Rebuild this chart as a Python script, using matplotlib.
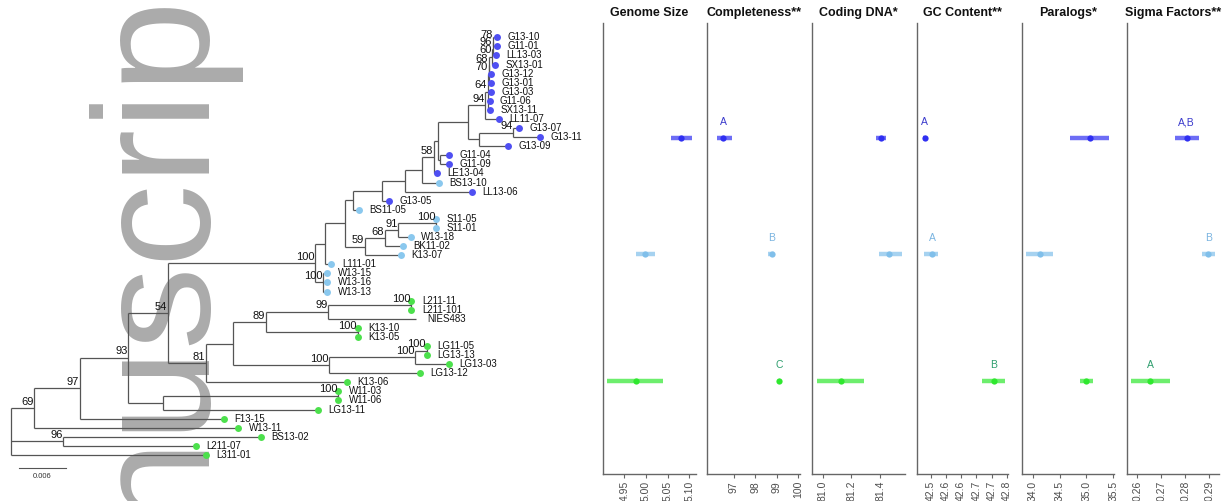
import matplotlib
matplotlib.use('Agg')
import matplotlib.pyplot as plt

plt.rcParams['font.family'] = ['Liberation Sans', 'DejaVu Sans']

# ---- tree: Newick pieces, branch lengths in 1e-3 subst./site, bootstrap as node labels
n1 = "(G13-10:0.488,G11-01:0.488)78"
n2 = f"({n1}:0.128,LL13-03:0.411)96"
n3 = f"({n2}:0.064,SX13-01:0.385)60"
n4 = f"({n3}:0.385,G13-12:0.257)68"
n5a = f"({n4}:0.064,G13-01:0.321)70"
n5 = f"({n5a}:0.128,G13-03:0.450,G11-06:0.257,SX13-11:0.360)64"
x94 = f"({n5}:0.321,LL11-07:1.799)94"
y94 = "(G13-07:0.694,G13-11:3.469)94"
z = f"({y94}:4.369,G13-09:3.649)"
aa = f"({x94}:2.146,{z}:1.413)"
g11 = "(G11-04:1.195,G11-09:1.195)"
ab = f"({aa}:3.893,{g11}:0.257)"
n58 = f"({ab}:0.514,LE13-04:0.347)58"
w2 = f"({n58}:1.580,BS13-10:2.261)"
v = f"({w2}:2.146,LL13-06:8.570)"
t = f"({v}:2.994,G13-05:0.912)"
u = f"({t}:3.649,BS11-05:0.771)"
s11 = "(S11-05:0.039,S11-01:0.039)100"
n91 = f"({s11}:4.844,W13-18:1.580)91"
n68 = f"({n91}:1.709,BK11-02:2.313)68"
n59 = f"({n68}:2.570,K13-07:4.626)59"
q = f"({u}:1.066,{n59}:2.570)"
p = f"({q}:2.570,L111-01:0.822)"
wn = "(W13-15:0.552,W13-16:0.552,W13-13:0.552)100"
f100 = f"({p}:1.285,{wn}:1.028)100"
l211 = "(L211-11:0.051,L211-101:0.051)100"
n99 = f"({l211}:10.613,NIES483:11.307)99"
k13 = "(K13-10:0.039,K13-05:0.039)100"
h89 = f"({n99}:8.018,{k13}:11.757)89"
m = "(LG11-05:0.026,LG13-13:0.026)100"
l100 = f"({m}:1.452,LG13-03:4.279)100"
k100 = f"({l100}:11.063,LG13-12:11.705)100"
j = f"({h89}:4.279,{k100}:12.386)"
g81 = f"({j}:3.495,K13-06:18.194)81"
e54 = f"({f100}:18.939,{g81}:4.870)54"
w11 = "(W11-03:0.03,W11-06:0.03)100"
d = f"({w11}:22.524,LG13-11:19.915)"
c93 = f"({e54}:5.062,{d}:4.420)93"
b97 = f"({c93}:6.244,F13-15:18.541)97"
a69 = f"({b97}:5.808,W13-11:26.211)69"
n96 = "(BS13-02:25.376,L211-07:17.063)96"
newick = f"({a69}:3.045,{n96}:6.733,L311-01:25.081);"

blue_leaves = ['G13-10', 'G11-01', 'LL13-03', 'SX13-01', 'G13-12', 'G13-01', 'G13-03',
               'G11-06', 'SX13-11', 'LL11-07', 'G13-07', 'G13-11', 'G13-09', 'G11-04',
               'G11-09', 'LE13-04', 'LL13-06', 'G13-05']
light_leaves = ['BS13-10', 'BS11-05', 'S11-05', 'S11-01', 'W13-18', 'BK11-02', 'K13-07',
                'L111-01', 'W13-15', 'W13-16', 'W13-13']
no_dot = ['NIES483']

# ---- trait panels (groups: blue clade, light-blue clade, green clade)
group_y = [1, 2, 3.1]
panel_titles = ['Genome Size', 'Completeness**', 'Coding DNA*', 'GC Content**',
                'Paralogs*', 'Sigma Factors**']
genome_mean = [5.081, 4.998, 4.976]
genome_lo = [5.057, 4.977, 4.911]
genome_hi = [5.106, 5.020, 5.040]
complete_mean = [96.53, 98.76, 99.11]
complete_lo = [96.22, 98.61, 99.08]
complete_hi = [96.92, 98.88, 99.14]
coding_mean = [81.405, 81.465, 81.125]
coding_lo = [81.37, 81.39, 80.96]
coding_hi = [81.44, 81.55, 81.29]
gc_mean = [42.48, 42.505, 42.707]
gc_lo = [42.475, 42.478, 42.669]
gc_hi = [42.485, 42.524, 42.743]
paralog_mean = [35.06, 34.135, 35.00]
paralog_lo = [34.69, 33.876, 34.88]
paralog_hi = [35.43, 34.38, 35.12]
sigma_mean = [0.2806, 0.2896, 0.2653]
sigma_lo = [0.2758, 0.2868, 0.2572]
sigma_hi = [0.2858, 0.2924, 0.2738]

ticks = [[4.95, 5.00, 5.05, 5.10], [97, 98, 99, 100], [81.0, 81.2, 81.4],
         [42.50, 42.55, 42.60, 42.65, 42.70, 42.75], [34.0, 34.5, 35.0, 35.5],
         [0.26, 0.27, 0.28, 0.29]]
tick_labels = [['4.95', '5.00', '5.05', '5.10'], ['97', '98', '99', '100'],
               ['81.0', '81.2', '81.4'], ['42.5', '42.6', '42.6', '42.7', '42.7', '42.8'],
               ['34.0', '34.5', '35.0', '35.5'], ['0.26', '0.27', '0.28', '0.29']]
xlims = [(4.900, 5.1155), (95.79, 100.07), (80.927, 81.574), (42.456, 42.755),
         (33.795, 35.52), (0.25558, 0.29417)]
letters = [None, ['A', 'B', 'C'], None, ['A', 'A', 'B'], None, ['A,B', 'B', 'A']]

pt_colors = ['#2f2ff2', '#80bfea', '#2fe82f']
txt_colors = ['#3a3acc', '#7ab4e0', '#2e9e6e']
dot_colors = {'blue': '#4f4ff2', 'light': '#8ac8ee', 'green': '#4ce04c'}


def parse_newick(s):
    pos = 0

    def node():
        nonlocal pos
        kids = []
        if s[pos] == '(':
            pos += 1
            while True:
                kids.append(node())
                if s[pos] == ',':
                    pos += 1
                    continue
                pos += 1
                break
        start = pos
        while s[pos] not in ',();':
            pos += 1
        name, _, length = s[start:pos].partition(':')
        return {'name': name, 'len': float(length) if length else 0.0, 'children': kids}
    return node()


def layout(nd, x0, leaves):
    nd['x'] = x0 + nd['len']
    if not nd['children']:
        nd['y'] = len(leaves)
        leaves.append(nd)
    else:
        for ch in nd['children']:
            layout(ch, nd['x'], leaves)
        nd['y'] = (nd['children'][0]['y'] + nd['children'][-1]['y']) / 2


tree = parse_newick(newick)
leaves = []
layout(tree, 0.0, leaves)

fig = plt.figure(figsize=(12.26, 5.01), dpi=100)

# ---- tree axes
ax = fig.add_axes([0, 0, 590 / 1226, 1])
ax.set_xlim(-1.375, 74.43)
ax.set_ylim(51.07, -4.108)
ax.axis('off')

line_kw = dict(color='#555555', lw=0.9, solid_capstyle='butt', zorder=2)


def draw(nd):
    if not nd['children']:
        return
    for ch in nd['children']:
        ax.plot([nd['x'], ch['x']], [ch['y'], ch['y']], **line_kw)
        draw(ch)
    ax.plot([nd['x'], nd['x']], [nd['children'][0]['y'], nd['children'][-1]['y']], **line_kw)
    if nd['name']:
        ax.annotate(nd['name'], (nd['x'], nd['y']), xytext=(-0.5, 2.5),
                    textcoords='offset points', ha='right', va='baseline',
                    fontsize=8, color='#111111', zorder=4)


draw(tree)

for lf in leaves:
    if lf['name'] in blue_leaves:
        col = dot_colors['blue']
    elif lf['name'] in light_leaves:
        col = dot_colors['light']
    else:
        col = dot_colors['green']
    if lf['name'] not in no_dot:
        ax.plot(lf['x'], lf['y'], 'o', ms=5, color=col, mec='none', zorder=3)
    ax.annotate(lf['name'], (lf['x'], lf['y']), xytext=(7.5, 0), textcoords='offset points',
                ha='left', va='center', fontsize=7, color='#111111', zorder=4)

# scale bar
ax.plot([1.08, 1.08 + 6], [47.47, 47.47], color='#555555', lw=0.8)
ax.text(1.08 + 3, 48.0, '0.006', ha='center', va='top', fontsize=5.5, color='#333333')

# watermark
ax.text(199 / 1226, 1.024, 'nuscrip', transform=fig.transFigure, rotation=90,
        rotation_mode='anchor', ha='right', va='baseline', fontsize=119,
        color='#ababab', zorder=0, clip_on=False)

# ---- trait panels
lefts = [602.7, 707.3, 812.3, 917.3, 1021.7, 1126.7]
rights = [696, 800, 905, 1008.3, 1114.3, 1219.3]
means = [genome_mean, complete_mean, coding_mean, gc_mean, paralog_mean, sigma_mean]
los = [genome_lo, complete_lo, coding_lo, gc_lo, paralog_lo, sigma_lo]
his = [genome_hi, complete_hi, coding_hi, gc_hi, paralog_hi, sigma_hi]

for i, title in enumerate(panel_titles):
    pa = fig.add_axes([lefts[i] / 1226, 27 / 501, (rights[i] - lefts[i]) / 1226, 451.3 / 501])
    for g in range(3):
        pa.hlines(group_y[g], los[i][g], his[i][g], color=pt_colors[g], lw=3.2, alpha=0.7)
        pa.plot(means[i][g], group_y[g], 'o', ms=4.5, color=pt_colors[g], mec='none')
        if letters[i]:
            pa.annotate(letters[i][g], (means[i][g], group_y[g]), xytext=(0, 11.7),
                        textcoords='offset points', ha='center', va='center',
                        fontsize=7.5, color=txt_colors[g])
    pa.set_xlim(*xlims[i])
    pa.set_ylim(3.9, 0.0)
    pa.set_xticks(ticks[i])
    pa.set_xticklabels(tick_labels[i], rotation=90, va='top', ha='center')
    pa.set_yticks([])
    pa.tick_params(axis='x', length=3, width=0.8, color='#666666', labelsize=7.5,
                   labelcolor='#4d4d4d', pad=2)
    for side in ['top', 'right']:
        pa.spines[side].set_visible(False)
    for side in ['left', 'bottom']:
        pa.spines[side].set_color('#666666')
        pa.spines[side].set_linewidth(1.0)
    pa.set_title(title, fontsize=9, fontweight='bold', pad=5, color='#111111')
    pa.patch.set_alpha(0)

fig.savefig('out.png', dpi=100)
